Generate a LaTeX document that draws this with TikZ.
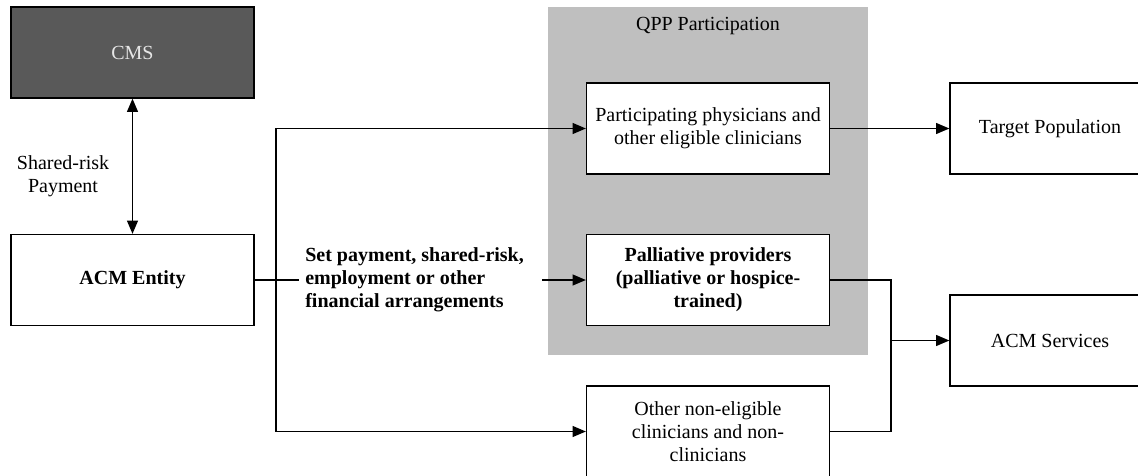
\documentclass[tikz,border=0pt]{standalone}
\usepackage{fontspec}
\setmainfont{Liberation Serif}
\usetikzlibrary{arrows.meta}
\definecolor{cmsgray}{HTML}{595959}
\definecolor{qppgray}{HTML}{BFBFBF}
\definecolor{cmstext}{HTML}{E6E6E6}
\begin{document}
\begin{tikzpicture}[x=0.6pt,y=-0.6pt,
  box/.style={draw=black,line width=0.7pt,fill=white,rectangle,inner sep=0pt,
    minimum width=145.8pt,minimum height=54.6pt,align=center,font=\fontsize{12}{13.8}\selectfont},
  conn/.style={line width=1pt},
  arr/.style={conn,-{Triangle[length=8pt,width=6.5pt]}},
  darr/.style={conn,{Triangle[length=8pt,width=6.5pt]}-{Triangle[length=8pt,width=6.5pt]}},
  lbl/.style={inner sep=0pt,align=left,font=\fontsize{12}{13.8}\selectfont}]
\useasboundingbox (0,0) rectangle (1138,475);
% QPP group
\node[fill=qppgray,draw=none,minimum width=192pt,minimum height=208.8pt,inner sep=0pt] (qpp) at (708,181) {};
\node[font=\fontsize{12}{13.8}\selectfont,inner sep=0pt] (qpptitle) at (708,26) {QPP Participation};
% boxes
\node[box,fill=cmsgray,text=cmstext] (cms) at (132.5,52.5) {CMS};
\node[box,font=\fontsize{12}{13.8}\selectfont\bfseries] (acm) at (132.5,280) {ACM Entity};
\node[box] (part) at (708,128.5) {Participating physicians and\\other eligible clinicians};
\node[box,font=\fontsize{12}{13.8}\selectfont\bfseries] (pall) at (708,280) {Palliative providers\\(palliative or hospice-\\trained)};
\node[box] (other) at (708,431.5) {Other non-eligible\\clinicians and non-\\clinicians};
\node[box,minimum width=120pt] (target) at (1050,128.5) {Target Population};
\node[box,minimum width=120pt] (services) at (1050,340.5) {ACM Services};
% labels
\node[lbl,align=center] (srp) at (63,176) {Shared-risk\\Payment};
\node[lbl,anchor=west,font=\fontsize{12}{13.8}\selectfont\bfseries] (fin) at (305,280) {Set payment, shared-risk,\\employment or other\\financial arrangements};
% coordinates
\coordinate (split) at (276,280);
\coordinate (merge) at (891,340.5);
% connectors
\draw[darr] (cms) -- (acm);
\draw[conn] (acm.east) -- (split);
\draw[arr] (split) |- (part.west);
\draw[arr] (split) |- (other.west);
\draw[conn,shorten >=3.6pt] (split) -- (fin.west);
\draw[arr] (fin.east -| 542,0) -- (pall.west);
\draw[arr] (part.east) -- (target.west);
\draw[conn] (pall.east) -| (merge);
\draw[conn] (other.east) -| (merge);
\draw[arr] (merge) -- (services.west);
\end{tikzpicture}
\end{document}
